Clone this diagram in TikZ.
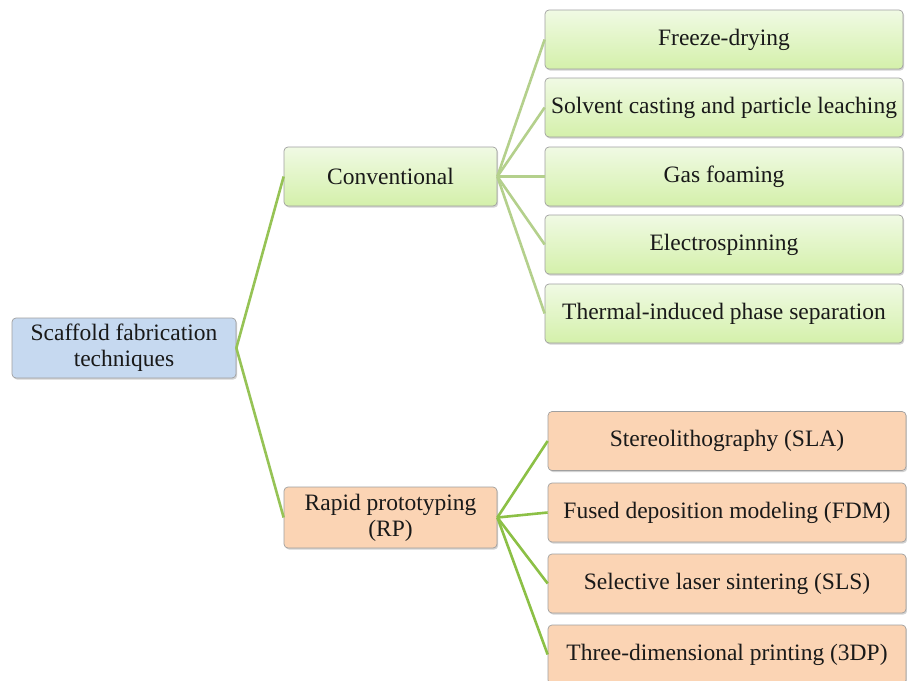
\documentclass[tikz,border=0pt]{standalone}
\usepackage{fontspec}
\setmainfont{Liberation Serif}
\usetikzlibrary{shadows}
\definecolor{rootfill}{RGB}{198,217,240}
\definecolor{greentop}{RGB}{240,250,228}
\definecolor{greenbot}{RGB}{212,240,170}
\definecolor{orangefill}{RGB}{251,212,180}
\definecolor{boxline}{RGB}{160,160,160}
\definecolor{mainline}{RGB}{150,195,85}
\definecolor{paleline}{RGB}{180,208,140}
\definecolor{rpline}{RGB}{140,192,70}
\begin{document}
\begin{tikzpicture}[x=1pt,y=-1pt,
  box/.style={draw=boxline, line width=0.7pt, rounded corners=4pt, align=center,
    font=\fontsize{23.5}{26}\selectfont, text=black!90, inner sep=0pt,
    drop shadow={shadow xshift=1.2pt, shadow yshift=-1.6pt, opacity=0.35}},
  rootbox/.style={box, fill=rootfill, minimum width=224pt, minimum height=60pt},
  greenbox/.style={box, top color=greentop, bottom color=greenbot, minimum height=59pt},
  orangebox/.style={box, fill=orangefill, minimum height=59pt},
  midwidth/.style={minimum width=213pt},
  leafwidth/.style={minimum width=358pt},
  link/.style={line width=2.6pt, draw=mainline},
  palelink/.style={line width=2.6pt, draw=paleline},
  rplink/.style={line width=2.6pt, draw=rpline}
]
\path[use as bounding box, clip] (0,0) rectangle (907,680);
\fill[white] (0,0) rectangle (907,680);

\node[rootbox] (root) at (124,348) {Scaffold fabrication\\techniques};
\node[greenbox, midwidth] (conv) at (390.5,176.5) {Conventional};
\node[orangebox, midwidth, minimum height=61pt] (rp) at (390.5,517.5) {Rapid prototyping\\(RP)};

\node[greenbox, leafwidth] (fd) at (724,39.5) {Freeze-drying};
\node[greenbox, leafwidth] (sc) at (724,107.5) {Solvent casting and particle leaching};
\node[greenbox, leafwidth] (gf) at (724,176.5) {Gas foaming};
\node[greenbox, leafwidth] (es) at (724,244.5) {Electrospinning};
\node[greenbox, leafwidth] (tp) at (724,313.5) {Thermal-induced phase separation};

\node[orangebox, leafwidth] (sla) at (727,441) {Stereolithography (SLA)};
\node[orangebox, leafwidth] (fdm) at (727,512.5) {Fused deposition modeling (FDM)};
\node[orangebox, leafwidth] (sls) at (727,583.5) {Selective laser sintering (SLS)};
\node[orangebox, leafwidth] (tdp) at (727,654.5) {Three-dimensional printing (3DP)};

\draw[link] (root.east) -- (conv.west);
\draw[link] (root.east) -- (rp.west);
\foreach \n in {fd,sc,gf,es,tp} \draw[palelink] (conv.east) -- (\n.west);
\foreach \n in {sla,fdm,sls,tdp} \draw[rplink] (rp.east) -- (\n.west);
\end{tikzpicture}
\end{document}
